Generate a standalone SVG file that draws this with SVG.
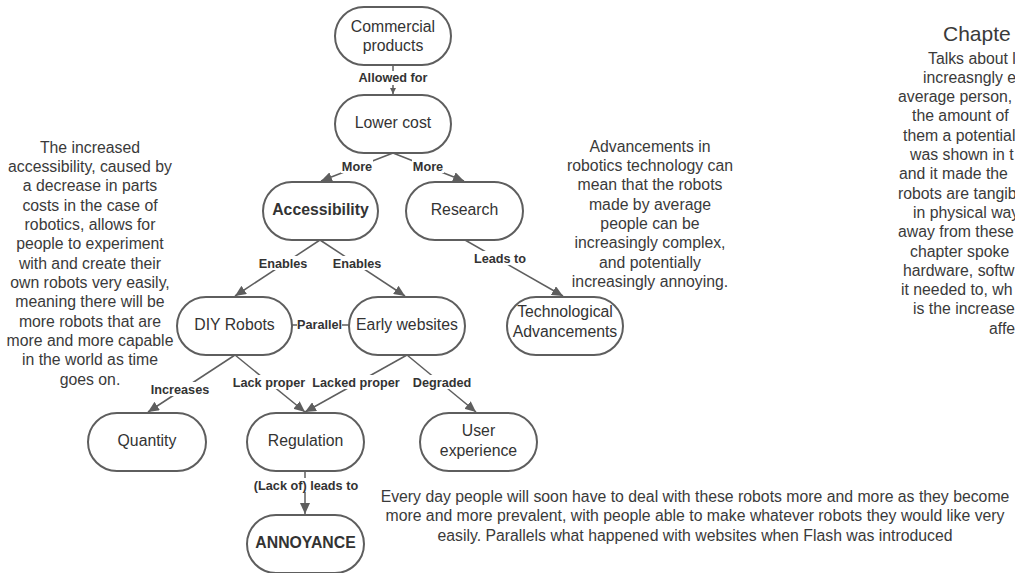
<svg xmlns="http://www.w3.org/2000/svg" width="1015" height="573" viewBox="0 0 1015 573">
  <style>
    .node rect { fill: #ffffff; stroke: #5e5e5e; stroke-width: 2; }
    .nt { font-family: "Liberation Sans", Arial, sans-serif; font-size: 15.8px; fill: #333333; text-anchor: middle; }
    .bold { font-weight: bold; }
    .edge { stroke: #5e5e5e; stroke-width: 1.5; fill: none; }
    .lbl { font-family: "Liberation Sans", Arial, sans-serif; font-size: 12.7px; font-weight: bold; fill: #333333; text-anchor: middle; }
    .lblbg { fill: #ffffff; }
    .para { font-family: "Liberation Sans", Arial, sans-serif; font-size: 15.8px; fill: #3a3a3a; text-anchor: middle; }
    .side { font-family: "Liberation Sans", Arial, sans-serif; font-size: 15.8px; fill: #3a3a3a; }
  </style>
  <defs>
    <marker id="arrow" markerUnits="userSpaceOnUse" markerWidth="12" markerHeight="10" refX="11" refY="5" orient="auto">
      <path d="M0,0 L11,5 L0,10 z" fill="#5e5e5e"/>
    </marker>
    <marker id="arrow-sm" markerUnits="userSpaceOnUse" markerWidth="7" markerHeight="6" refX="6" refY="3" orient="auto">
      <path d="M0,0 L6,3 L0,6 z" fill="#5e5e5e"/>
    </marker>
  </defs>
  <rect width="1015" height="573" fill="#ffffff"/>

  <!-- connectors -->
  <g id="connectors">
    <line class="edge" x1="393" y1="65" x2="393" y2="94" marker-end="url(#arrow-sm)"/>
    <line class="edge" x1="393" y1="153" x2="321" y2="181" marker-end="url(#arrow)"/>
    <line class="edge" x1="393" y1="153" x2="464" y2="181" marker-end="url(#arrow)"/>
    <line class="edge" x1="320" y1="240" x2="235" y2="296" marker-end="url(#arrow)"/>
    <line class="edge" x1="320" y1="240" x2="405" y2="296" marker-end="url(#arrow)"/>
    <line class="edge" x1="465" y1="240" x2="563" y2="296" marker-end="url(#arrow)"/>
    <line class="edge" x1="292" y1="325" x2="349" y2="325"/>
    <line class="edge" x1="235" y1="355" x2="148" y2="412" marker-end="url(#arrow)"/>
    <line class="edge" x1="235" y1="355" x2="305" y2="412" marker-end="url(#arrow)"/>
    <line class="edge" x1="407" y1="355" x2="305" y2="412" marker-end="url(#arrow)"/>
    <line class="edge" x1="407" y1="355" x2="476" y2="412" marker-end="url(#arrow)"/>
    <line class="edge" x1="305" y1="471" x2="305" y2="514" marker-end="url(#arrow)"/>

    <!-- connector labels -->
    <rect class="lblbg" x="358" y="71" width="70" height="14"/>
    <text class="lbl" x="393" y="82">Allowed for</text>
    <rect class="lblbg" x="341" y="159" width="32" height="14"/>
    <text class="lbl" x="357" y="170.5">More</text>
    <rect class="lblbg" x="412" y="159" width="32" height="14"/>
    <text class="lbl" x="428" y="170.5">More</text>
    <rect class="lblbg" x="258" y="256" width="50" height="14"/>
    <text class="lbl" x="283" y="267.5">Enables</text>
    <rect class="lblbg" x="332" y="256" width="50" height="14"/>
    <text class="lbl" x="357" y="267.5">Enables</text>
    <rect class="lblbg" x="474" y="251" width="53" height="14"/>
    <text class="lbl" x="500" y="262.5">Leads to</text>
    <rect class="lblbg" x="297" y="318" width="45" height="14"/>
    <text class="lbl" x="319.5" y="328.5">Parallel</text>
    <rect class="lblbg" x="150" y="382" width="60" height="14"/>
    <text class="lbl" x="180" y="393.5">Increases</text>
    <rect class="lblbg" x="232" y="375" width="74" height="14"/>
    <text class="lbl" x="269" y="387">Lack proper</text>
    <rect class="lblbg" x="312" y="375" width="89" height="14"/>
    <text class="lbl" x="356" y="387">Lacked proper</text>
    <rect class="lblbg" x="412" y="375" width="60" height="14"/>
    <text class="lbl" x="442" y="387">Degraded</text>
    <rect class="lblbg" x="253" y="478" width="106" height="14"/>
    <text class="lbl" x="306" y="489.5">(Lack of) leads to</text>
  </g>

  <!-- nodes -->
  <g id="commercial-products" class="node">
    <rect x="335" y="7" width="116" height="58" rx="29" ry="29"/>
    <text class="nt" x="393" y="32">Commercial</text>
    <text class="nt" x="393" y="51">products</text>
  </g>
  <g id="lower-cost" class="node">
    <rect x="335" y="95" width="116" height="58" rx="29" ry="29"/>
    <text class="nt" x="393" y="128">Lower cost</text>
  </g>
  <g id="accessibility" class="node">
    <rect x="263" y="182" width="115" height="58" rx="29" ry="29"/>
    <text class="nt bold" x="320.5" y="214.5">Accessibility</text>
  </g>
  <g id="research" class="node">
    <rect x="406" y="182" width="117" height="58" rx="29" ry="29"/>
    <text class="nt" x="464.5" y="214.5">Research</text>
  </g>
  <g id="diy-robots" class="node">
    <rect x="177" y="297" width="115" height="58" rx="29" ry="29"/>
    <text class="nt" x="234.5" y="330">DIY Robots</text>
  </g>
  <g id="early-websites" class="node">
    <rect x="349" y="297" width="116" height="58" rx="29" ry="29"/>
    <text class="nt" x="407" y="330">Early websites</text>
  </g>
  <g id="technological-advancements" class="node">
    <rect x="507" y="297" width="116" height="58" rx="29" ry="29"/>
    <text class="nt" x="565" y="317">Technological</text>
    <text class="nt" x="565" y="336.5">Advancements</text>
  </g>
  <g id="quantity" class="node">
    <rect x="88" y="413" width="118" height="58" rx="29" ry="29"/>
    <text class="nt" x="147" y="445.5">Quantity</text>
  </g>
  <g id="regulation" class="node">
    <rect x="247" y="413" width="117" height="58" rx="29" ry="29"/>
    <text class="nt" x="305.5" y="445.5">Regulation</text>
  </g>
  <g id="user-experience" class="node">
    <rect x="420" y="413" width="117" height="58" rx="29" ry="29"/>
    <text class="nt" x="478.5" y="436">User</text>
    <text class="nt" x="478.5" y="455.5">experience</text>
  </g>
  <g id="annoyance" class="node">
    <rect x="247" y="515" width="117" height="58" rx="29" ry="29"/>
    <text class="nt bold" x="305.5" y="548">ANNOYANCE</text>
  </g>

  <!-- free text notes -->
  <g id="note-accessibility">
    <text class="para" x="90" y="152.5">The increased</text>
    <text class="para" x="90" y="171.8">accessibility, caused by</text>
    <text class="para" x="90" y="191.2">a decrease in parts</text>
    <text class="para" x="90" y="210.5">costs in the case of</text>
    <text class="para" x="90" y="229.8">robotics, allows for</text>
    <text class="para" x="90" y="249.2">people to experiment</text>
    <text class="para" x="90" y="268.5">with and create their</text>
    <text class="para" x="90" y="287.8">own robots very easily,</text>
    <text class="para" x="90" y="307.2">meaning there will be</text>
    <text class="para" x="90" y="326.5">more robots that are</text>
    <text class="para" x="90" y="345.8">more and more capable</text>
    <text class="para" x="90" y="365.2">in the world as time</text>
    <text class="para" x="90" y="384.5">goes on.</text>
  </g>
  <g id="note-advancements">
    <text class="para" x="650" y="151.5">Advancements in</text>
    <text class="para" x="650" y="170.8">robotics technology can</text>
    <text class="para" x="650" y="190.2">mean that the robots</text>
    <text class="para" x="650" y="209.5">made by average</text>
    <text class="para" x="650" y="228.8">people can be</text>
    <text class="para" x="650" y="248.2">increasingly complex,</text>
    <text class="para" x="650" y="267.5">and potentially</text>
    <text class="para" x="650" y="286.8">increasingly annoying.</text>
  </g>
  <g id="note-everyday">
    <text class="para" x="695" y="502">Every day people will soon have to deal with these robots more and more as they become</text>
    <text class="para" x="695" y="521.3">more and more prevalent, with people able to make whatever robots they would like very</text>
    <text class="para" x="695" y="540.6">easily. Parallels what happened with websites when Flash was introduced</text>
  </g>
  <g id="note-chapter">
    <text class="side" x="943" y="40.5" style="font-size:21px">Chapte</text>
    <text class="side" x="928" y="63.5">Talks about l</text>
    <text class="side" x="923" y="82.8">increasngly e</text>
    <text class="side" x="898" y="102.1">average person,</text>
    <text class="side" x="912" y="121.4">the amount of</text>
    <text class="side" x="903" y="140.7">them a potential</text>
    <text class="side" x="910" y="160">was shown in t</text>
    <text class="side" x="899" y="179.3">and it made the</text>
    <text class="side" x="898" y="198.6">robots are tangib</text>
    <text class="side" x="913" y="217.9">in physical way</text>
    <text class="side" x="898" y="237.2">away from these</text>
    <text class="side" x="910" y="256.5">chapter spoke</text>
    <text class="side" x="903" y="275.8">hardware, softw</text>
    <text class="side" x="901" y="295.1">it needed to, wh</text>
    <text class="side" x="913" y="314.4">is the increase</text>
    <text class="side" x="989" y="333.7">affe</text>
  </g>
</svg>
